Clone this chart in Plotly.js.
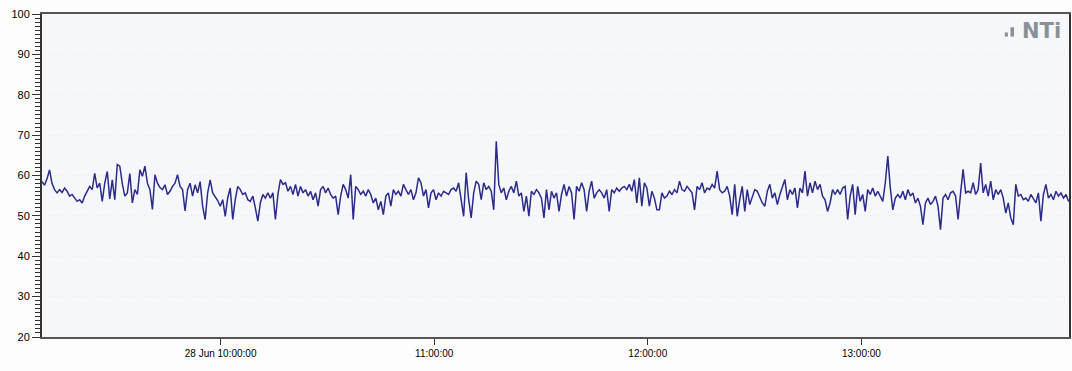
<!DOCTYPE html>
<html>
<head>
<meta charset="utf-8">
<script src="https://cdn.plot.ly/plotly-3.0.1.min.js"></script>
<style>
  html, body { margin: 0; padding: 0; background: #fdfdfd; }
  #chart { width: 1072px; height: 371px; }
</style>
</head>
<body>
<div id="chart"></div>
<script>
// Sound level log, 28 Jun, one reading roughly every 42 s
const startTime = '2011-06-28T09:09:50Z';
const stepSeconds = 42.3;

const level_0910_1000 = [
  58.5, 57.6, 59.2, 61.4, 58.0, 56.5, 55.7, 56.5, 55.8, 56.9,
  56.1, 54.9, 55.3, 54.4, 53.6, 54.0, 53.2, 54.9, 56.0, 57.3,
  56.5, 60.5, 56.9, 58.1, 53.6, 58.1, 61.0, 54.2, 58.9, 54.0,
  62.7, 62.3, 58.0, 54.9, 55.7, 60.5, 53.2, 56.5, 55.3, 61.4,
  59.8, 62.3, 58.1, 56.5, 51.6, 60.2, 58.1, 57.0, 56.5, 57.7,
  55.3, 56.1, 57.3, 58.1, 60.2, 57.3, 56.5, 51.2, 56.5, 58.1,
  54.9, 57.7, 55.7, 58.5, 52.4, 49.1, 55.7, 58.9, 55.7, 54.9,
  53.8, 52.4, 54.0, 49.9, 54.5, 56.9, 49.1, 54.0, 57.3, 56.5,
  55.3, 55.7, 54.0
];
const level_1000_1100 = [
  53.6, 54.9, 52.0, 48.7, 53.2, 55.3, 54.4, 55.7, 54.4, 55.7,
  49.1, 55.3, 59.0, 57.8, 58.2, 56.1, 57.3, 55.3, 57.8, 54.9,
  57.3, 55.7, 56.5, 54.9, 56.1, 54.0, 55.7, 52.4, 56.5, 57.3,
  55.7, 56.9, 55.3, 54.4, 54.9, 50.3, 54.9, 57.8, 56.5, 54.4,
  60.2, 49.1, 57.3, 56.5, 55.3, 56.1, 54.9, 56.5, 55.3, 53.2,
  54.4, 51.5, 53.6, 50.3, 54.9, 55.7, 52.4, 56.5, 55.3, 56.1,
  54.9, 57.8, 56.5, 55.3, 56.5, 54.0, 55.7, 59.4, 58.2, 54.9,
  56.5, 52.0, 55.7, 56.5, 54.0, 55.7, 54.9, 56.1, 55.7, 55.3,
  56.5, 56.9
];
const level_1100_1200 = [
  56.1, 58.2, 54.0, 49.9, 60.7, 54.0, 49.5, 55.7, 58.6, 57.8,
  54.0, 58.2, 56.5, 57.3, 56.1, 51.5, 68.5, 57.8, 55.7, 56.9,
  54.0, 56.1, 57.3, 55.7, 58.6, 54.9, 55.7, 51.1, 54.9, 49.9,
  56.1, 55.3, 56.5, 55.7, 54.4, 49.5, 56.5, 51.5, 56.1,
  54.4, 55.7, 51.1, 55.3, 57.8, 54.9, 57.3, 55.7, 49.1,
  57.3, 56.1, 58.2, 56.5, 51.1, 56.1, 58.6, 54.4, 55.7, 56.5,
  55.7, 54.4, 56.5, 51.1, 56.5, 55.7, 56.9, 56.1, 56.9,
  57.3, 56.5, 57.8, 56.1, 59.0, 53.2, 59.4, 52.4, 58.2,
  56.9, 52.4, 56.1, 54.4, 51.5
];
const level_1200_1300 = [
  51.5, 55.7, 54.4, 54.9, 56.1, 55.3, 56.5, 55.7, 58.6,
  56.5, 56.1, 57.3, 56.5, 55.7, 51.5, 57.3, 56.5, 58.2,
  55.7, 56.9, 56.5, 57.8, 56.9, 61.1, 56.5, 55.7, 56.1,
  57.3, 54.9, 50.3, 57.8, 49.9, 54.0, 57.3, 51.1, 56.5, 52.8,
  54.4, 56.5, 56.1, 54.4, 53.2, 52.4, 56.1, 57.8, 54.4,
  55.7, 52.8, 55.3, 56.9, 59.0, 54.0, 56.5, 55.3, 56.9, 52.0,
  56.9, 55.7, 61.1, 54.9, 58.2, 55.7, 58.6, 56.5, 57.8,
  54.9, 54.0, 51.1, 53.2, 56.5, 55.3, 56.5, 55.3, 56.9,
  57.3, 49.1, 54.9, 57.8, 50.3, 57.3, 53.6, 55.3
];
const level_1300_1358 = [
  51.1, 56.5, 55.3, 56.9, 54.9, 56.1, 54.9, 53.6, 58.2,
  64.8, 56.9, 51.5, 54.4, 55.3, 54.4, 56.1, 54.0, 56.5,
  54.9, 55.7, 53.2, 54.4, 52.4, 47.8, 53.2, 54.4, 52.8, 53.6,
  54.9, 52.4, 46.6, 54.4, 55.3, 54.0, 55.7, 56.1, 54.9,
  49.1, 55.7, 61.5, 55.7, 56.1, 55.7, 58.2, 55.3, 56.5, 63.1,
  55.7, 57.8, 54.9, 58.6, 54.0, 56.5, 55.3, 56.5, 54.4, 50.7,
  53.2, 49.5, 47.8, 57.8, 54.9, 55.3, 54.0, 54.4, 53.6,
  55.3, 54.4, 53.2, 55.7, 48.7, 55.3, 57.8, 54.4, 55.3, 54.0,
  56.1, 54.9, 55.7, 54.4, 55.3, 53.6, 54.4, 51.1
];

const yTickVals = [20, 30, 40, 50, 60, 70, 80, 90, 100];
const xTickVals = ['2011-06-28 10:00:00', '2011-06-28 11:00:00', '2011-06-28 12:00:00', '2011-06-28 13:00:00'];
const xTickText = ['28 Jun 10:00:00', '11:00:00', '12:00:00', '13:00:00'];
const xRange = ['2011-06-28 09:09:50', '2011-06-28 13:58:19'];

const levels = [].concat(level_0910_1000, level_1000_1100, level_1100_1200, level_1200_1300, level_1300_1358);
const t0 = Date.parse(startTime);
const times = levels.map((v, i) =>
  new Date(t0 + i * stepSeconds * 1000).toISOString().replace('T', ' ').replace('Z', ''));

const trace = {
  x: times,
  y: levels,
  type: 'scatter',
  mode: 'lines',
  line: { color: '#2c2a8a', width: 1.5 },
  hoverinfo: 'x+y'
};

const layout = {
  width: 1072,
  height: 371,
  margin: { l: 42, r: 3, t: 14, b: 34 },
  paper_bgcolor: '#fdfdfd',
  plot_bgcolor: '#f6f7fb',
  showlegend: false,
  font: { family: 'Liberation Sans, Arial, sans-serif', size: 11, color: '#000' },
  xaxis: {
    type: 'date',
    range: xRange,
    tickvals: xTickVals,
    ticktext: xTickText,
    ticks: 'outside',
    ticklen: 6,
    tickwidth: 1,
    tickcolor: '#333',
    tickfont: { size: 10, color: '#000' },
    showgrid: false,
    zeroline: false,
    showline: true,
    linecolor: '#555',
    linewidth: 2,
    mirror: true
  },
  yaxis: {
    range: [20, 100],
    tickvals: yTickVals,
    ticks: 'outside',
    ticklen: 8,
    tickwidth: 1,
    tickcolor: '#333',
    tickfont: { size: 11, color: '#000' },
    showgrid: true,
    gridcolor: '#eff0f4',
    griddash: 'dot',
    gridwidth: 1,
    zeroline: false,
    showline: true,
    linecolor: '#333',
    linewidth: 2,
    mirror: true,
    minor: { dtick: 1, ticks: 'outside', ticklen: 5, tickcolor: '#333', tickwidth: 1, showgrid: false }
  },
  shapes: [
    { type: 'rect', xref: 'paper', yref: 'paper', x0: 0.9375, x1: 0.9405, y0: 0.930, y1: 0.943, fillcolor: '#8a9096', line: { width: 0 } },
    { type: 'rect', xref: 'paper', yref: 'paper', x0: 0.9430, x1: 0.9465, y0: 0.930, y1: 0.959, fillcolor: '#8a9096', line: { width: 0 } }
  ],
  annotations: [
    {
      xref: 'paper', yref: 'paper', x: 0.994, y: 0.905,
      xanchor: 'right', yanchor: 'bottom', showarrow: false,
      text: '<b>NTi</b>',
      font: { family: 'DejaVu Sans, sans-serif', size: 21, color: '#8a9096' }
    }
  ]
};

Plotly.newPlot('chart', [trace], layout, { displayModeBar: false, staticPlot: true });
</script>
</body>
</html>
